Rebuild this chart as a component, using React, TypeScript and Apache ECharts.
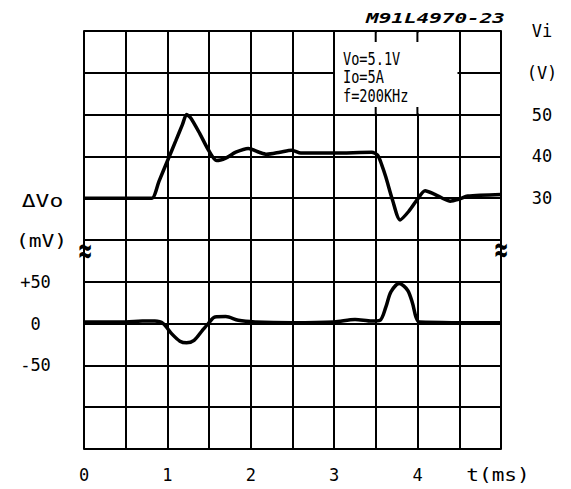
import React, { useEffect, useRef } from "react";
import * as echarts from "echarts";

// time axis (ms)
const timeTicks = [0, 1, 2, 3, 4];
const timeUnitLabel = "t(ms)";

// Vi trace (V) on the right axis: [t(ms), V]
const viTrace: [number, number][] = [
  [0, 30], [0.7, 30], [0.815, 30], [0.9, 34.1], [1.0, 38.9], [1.1, 43.7],
  [1.18, 47.6], [1.23, 50], [1.28, 49.2], [1.39, 45.4], [1.49, 41.6],
  [1.59, 39], [1.7, 39.6], [1.82, 41], [1.97, 41.9], [2.1, 41], [2.19, 40.5],
  [2.35, 41], [2.49, 41.5], [2.6, 40.8], [3.0, 40.8], [3.45, 41], [3.52, 40.3],
  [3.57, 38], [3.62, 35], [3.7, 29.5], [3.79, 24.8], [3.9, 27], [4.0, 29.8],
  [4.09, 31.8], [4.2, 31], [4.39, 29.3], [4.5, 29.8], [4.6, 30.5], [5, 30.9],
];

// ΔVo trace (mV) on the left axis: [t(ms), mV]
const dvoTrace: [number, number][] = [
  [0, 2], [0.5, 2], [0.7, 3], [0.85, 3], [0.95, 0], [1.05, -12], [1.15, -21],
  [1.23, -23], [1.32, -20], [1.42, -8], [1.49, 0], [1.57, 8], [1.7, 8.5],
  [1.85, 4], [2.05, 2], [2.5, 1], [3.0, 2], [3.25, 5], [3.45, 3], [3.55, 4],
  [3.62, 20], [3.68, 38], [3.78, 48], [3.88, 40], [3.94, 24], [3.98, 8],
  [4.02, 2], [5, 1],
];

// tick labels
const leftTickLabels: Record<string, string> = { "50": "+50", "0": "0", "-50": "-50" };
const rightTickLabels: Record<string, string> = { "70": "Vi", "60": "(V)", "50": "50", "40": "40", "30": "30" };

const titleText = "M91L4970-23";
const noteLines = ["Vo=5.1V", "Io=5A", "f=200KHz"];
const leftUnitLines = ["\u0394Vo", "(mV)"];

const FONT = "DejaVu Sans Mono";

export default function App() {
  const ref = useRef<HTMLDivElement>(null);
  useEffect(() => {
    if (!ref.current) return;
    const chart = echarts.init(ref.current, undefined, { renderer: "svg" });
    const gl = 84, gr = 501, gt = 31, gb = 449;
    const textStyle = { fontFamily: FONT, fontSize: 17, fontWeight: "normal", fill: "#000" };
    const labelStyle = { color: "#000", fontFamily: FONT, fontSize: 17, fontWeight: "normal" };
    chart.setOption({
      animation: false,
      backgroundColor: "#fff",
      grid: { left: gl, right: 571 - gr, top: gt, bottom: 489 - gb, containLabel: false },
      xAxis: {
        type: "value",
        min: 0,
        max: 5,
        interval: 0.5,
        axisLine: { show: true, lineStyle: { color: "#000", width: 2 } },
        axisTick: { show: false },
        splitLine: { show: true, lineStyle: { color: "#000", width: 2 } },
        axisLabel: {
          show: true,
          margin: 17,
          ...labelStyle,
          showMinLabel: true,
          showMaxLabel: true,
          formatter: (v: number) => {
            const i = timeTicks.find((t) => Math.abs(t - v) < 1e-6);
            return i !== undefined ? String(i) : "";
          },
        },
      },
      yAxis: [
        {
          type: "value",
          min: -150,
          max: 350,
          interval: 50,
          position: "left",
          axisLine: { show: true, lineStyle: { color: "#000", width: 2 } },
          axisTick: { show: false },
          splitLine: { show: true, lineStyle: { color: "#000", width: 2 } },
          axisLabel: {
            show: true,
            margin: 48.5,
            align: "center",
            ...labelStyle,
            showMinLabel: true,
            showMaxLabel: true,
            formatter: (v: number) => leftTickLabels[String(Math.round(v))] ?? "",
          },
        },
        {
          type: "value",
          min: -30,
          max: 70,
          interval: 10,
          position: "right",
          axisLine: { show: true, lineStyle: { color: "#000", width: 2 } },
          axisTick: { show: false },
          splitLine: { show: false },
          axisLabel: {
            show: true,
            margin: 41,
            align: "center",
            ...labelStyle,
            showMinLabel: true,
            showMaxLabel: true,
            formatter: (v: number) => rightTickLabels[String(Math.round(v))] ?? "",
          },
        },
      ],
      series: [
        {
          type: "line",
          yAxisIndex: 1,
          data: viTrace,
          smooth: 0.25,
          showSymbol: false,
          lineStyle: { color: "#000", width: 3.5 },
          z: 5,
        },
        {
          type: "line",
          yAxisIndex: 0,
          data: dvoTrace,
          smooth: 0.3,
          showSymbol: false,
          lineStyle: { color: "#000", width: 3.5 },
          z: 5,
        },
      ],
      graphic: [
        { type: "rect", z: 100, shape: { x: 335, y: 32.5, width: 122.5, height: 81 }, style: { fill: "#fff" } },
        { type: "line", z: 101, shape: { x1: 375.7, y1: 31, x2: 375.7, y2: 42 }, style: { stroke: "#000", lineWidth: 2 } },
        { type: "line", z: 101, shape: { x1: 417.4, y1: 31, x2: 417.4, y2: 42 }, style: { stroke: "#000", lineWidth: 2 } },
        { type: "line", z: 101, shape: { x1: 375.7, y1: 107, x2: 375.7, y2: 115 }, style: { stroke: "#000", lineWidth: 2 } },
        { type: "line", z: 101, shape: { x1: 417.4, y1: 107, x2: 417.4, y2: 115 }, style: { stroke: "#000", lineWidth: 2 } },
        ...noteLines.map((t, i) => ({
          type: "text",
          z: 102,
          x: 343,
          y: 59 + i * 18.5,
          scaleX: 0.8,
          style: { ...textStyle, fontSize: 17, text: t, textAlign: "left", textVerticalAlign: "middle" },
        })),
        {
          type: "text",
          z: 102,
          x: 505,
          y: 18,
          scaleX: 1.5,
          style: { ...textStyle, fontSize: 14, fontWeight: "bold", fontStyle: "italic", text: titleText, textAlign: "right", textVerticalAlign: "middle" },
        },
        ...leftUnitLines.map((t, i) => ({
          type: "text",
          z: 102,
          x: i === 0 ? 42.5 : 41.5,
          y: 201 + i * 40,
          scaleX: i === 0 ? 1.35 : 1.25,
          style: { ...textStyle, text: t, textAlign: "center", textVerticalAlign: "middle" },
        })),
        {
          type: "text",
          z: 102,
          x: 498,
          y: 475,
          scaleX: 1.24,
          style: { ...textStyle, text: timeUnitLabel, textAlign: "center", textVerticalAlign: "middle" },
        },
        {
          type: "text",
          z: 102,
          x: gl + 1,
          y: 250,
          scaleY: 1.7,
          style: { ...textStyle, fontSize: 22, fontWeight: "bold", text: "\u2248", textAlign: "center", textVerticalAlign: "middle" },
        },
        {
          type: "text",
          z: 102,
          x: gr,
          y: 249,
          scaleY: 1.7,
          style: { ...textStyle, fontSize: 22, fontWeight: "bold", text: "\u2248", textAlign: "center", textVerticalAlign: "middle" },
        },
      ],
    });
    return () => chart.dispose();
  }, []);
  return (
    <div
      ref={ref}
      style={{ position: "fixed", left: 0, top: 0, width: 571, height: 489, background: "#fff" }}
    />
  );
}
